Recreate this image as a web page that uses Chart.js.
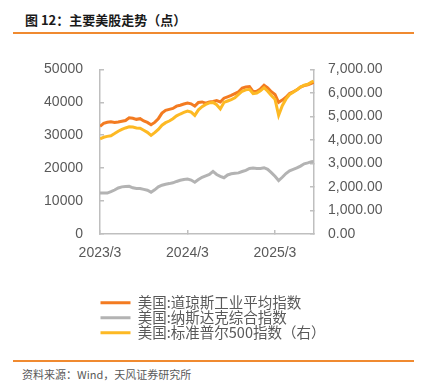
<!DOCTYPE html>
<html>
<head>
<meta charset="utf-8">
<script src="https://cdn.jsdelivr.net/npm/chart.js@4.4.1/dist/chart.umd.min.js"></script>
<style>
  body { margin: 0; width: 422px; height: 381px; background: #fff; position: relative; overflow: hidden; font-family: "Noto Sans CJK SC", sans-serif; }
  #title { position: absolute; left: 25px; top: 11px; font-size: 13px; font-weight: bold; color: #1a1a1a; line-height: 18px; white-space: nowrap; }
  .rule { position: absolute; left: 13px; width: 401px; height: 1.5px; background: #F08A30; }
  #src { position: absolute; left: 22px; top: 366px; font-size: 11px; color: #595959; line-height: 16px; white-space: nowrap; }
  #box { position: absolute; left: 0; top: 40px; width: 422px; height: 310px; }
</style>
</head>
<body>
<div id="title">图 12：主要美股走势（点）</div>
<div class="rule" style="top:32px"></div>
<div id="box"><canvas id="chart"></canvas></div>
<div class="rule" style="top:360px"></div>
<div id="src">资料来源：Wind，天风证券研究所</div>
<script>
// months after 2023/3
const months = [0, 0.5, 1, 1.5, 2, 2.5, 3, 3.5, 4, 4.5, 5, 5.5, 6, 6.5, 7, 7.5, 8, 8.5, 9, 9.5,
  10, 10.5, 11, 11.5, 12, 12.5, 13, 13.5, 14, 14.5, 15, 15.5, 16, 16.5, 17, 17.5, 18, 18.5, 19, 19.5,
  20, 20.5, 21, 21.5, 22, 22.5, 23, 23.5, 24, 24.5, 25, 25.5, 26, 26.5, 27, 27.5, 28, 28.5, 29, 29.3];

const dow = [32700, 33600, 33950, 34100, 33900, 34050, 34270, 34470, 35300, 35170,
  34830, 35030, 34320, 33900, 33200, 33900, 35030, 36720, 37570, 37850,
  38140, 38840, 39130, 39470, 39750, 39550, 38840, 39970, 40120, 39750,
  40120, 40260, 40540, 40120, 41250, 41670, 42090, 42660, 43220, 44350,
  44640, 44780, 43220, 43360, 44070, 45200, 44350, 43220, 42380, 40000,
  40680, 41530, 42660, 43220, 43790, 44640, 45060, 45340, 45770, 46130];

const nasdaq = [12430, 12430, 12430, 12850, 13360, 13980, 14320, 14410, 14490, 14040,
  13840, 13840, 13560, 13280, 12710, 13420, 14320, 14830, 15110, 15310,
  15540, 15960, 16330, 16580, 16670, 16390, 15740, 16530, 17230, 17660,
  18080, 19010, 18080, 17520, 17090, 17940, 18280, 18420, 18560, 18980,
  19350, 19920, 20060, 19920, 19920, 20140, 19630, 18650, 17520, 16240,
  17230, 18360, 19210, 19630, 20060, 20620, 21330, 21610, 21980, 22030];

const spx = [4046, 4113, 4153, 4180, 4271, 4370, 4449, 4509, 4556, 4548,
  4509, 4497, 4410, 4323, 4192, 4311, 4449, 4627, 4734, 4805,
  4904, 5023, 5102, 5169, 5228, 5181, 5043, 5280, 5418, 5509,
  5577, 5596, 5497, 5319, 5596, 5656, 5715, 5794, 5933, 6071,
  6130, 6150, 5972, 5992, 6091, 6221, 6071, 5893, 5735, 5050,
  5458, 5735, 5933, 6031, 6130, 6249, 6328, 6368, 6466, 6506];

const seriesNames = ['美国:道琼斯工业平均指数', '美国:纳斯达克综合指数', '美国:标准普尔500指数（右）'];
const xTickMonths = [0, 12, 24];
const xTickLabels = ['2023/3', '2024/3', '2025/3'];
const leftTickLabels = ['0', '10000', '20000', '30000', '40000', '50000'];
const rightTickLabels = ['0.00', '1,000.00', '2,000.00', '3,000.00', '4,000.00', '5,000.00', '6,000.00', '7,000.00'];

const axisColor = '#BFBFBF';
const textColor = '#595959';
const tickFont = { family: '"Liberation Sans", Arial, sans-serif', size: 14 };

function pts(arr) {
  return arr.map((v, i) => ({ x: months[i], y: v }));
}

// legend keeps one item per row but must not be clipped at the plot's right edge
const legendWide = {
  id: 'legendWide',
  afterLayout(chart) {
    if (chart.legend) chart.legend.right = chart.width;
  }
};

const ctx = document.getElementById('chart').getContext('2d');
new Chart(ctx, {
  type: 'line',
  data: {
    datasets: [
      { label: seriesNames[0], data: pts(dow), borderColor: '#F37B21', backgroundColor: '#F37B21', yAxisID: 'y', order: 1 },
      { label: seriesNames[1], data: pts(nasdaq), borderColor: '#B3B3B3', backgroundColor: '#B3B3B3', yAxisID: 'y', order: 2 },
      { label: seriesNames[2], data: pts(spx), borderColor: '#FDB924', backgroundColor: '#FDB924', yAxisID: 'y1', order: 0 }
    ]
  },
  plugins: [legendWide],
  options: {
    responsive: true,
    maintainAspectRatio: false,
    animation: false,
    layout: { padding: { top: 17, left: 0, right: 0, bottom: 0 } },
    elements: { point: { radius: 0 }, line: { borderWidth: 3, tension: 0 } },
    scales: {
      x: {
        type: 'linear',
        min: 0,
        max: 29.35,
        afterBuildTicks: s => { s.ticks = xTickMonths.map(v => ({ value: v })); },
        afterFit: s => { s.height = 61; },
        grid: { drawOnChartArea: false, tickLength: -4, color: axisColor, lineWidth: 1.5 },
        border: { color: axisColor, width: 1.5 },
        ticks: {
          padding: 15, color: textColor, font: tickFont, maxRotation: 0, autoSkip: false,
          callback: v => { const i = xTickMonths.indexOf(v); return i < 0 ? '' : xTickLabels[i]; }
        }
      },
      y: {
        position: 'left',
        min: 0,
        max: 50000,
        afterFit: s => { s.width = 100; },
        grid: { drawOnChartArea: false, tickLength: -4, color: axisColor, lineWidth: 1.5 },
        border: { color: axisColor, width: 1.5 },
        ticks: { stepSize: 10000, padding: 21, color: textColor, font: tickFont, callback: (v, i) => leftTickLabels[i] }
      },
      y1: {
        position: 'right',
        min: 0,
        max: 7000,
        afterFit: s => { s.width = 108; },
        grid: { drawOnChartArea: false, tickLength: -4, color: axisColor, lineWidth: 1.5 },
        border: { color: axisColor, width: 1.5 },
        ticks: { stepSize: 1000, padding: 18, color: textColor, font: tickFont, callback: (v, i) => rightTickLabels[i] }
      }
    },
    plugins: {
      tooltip: { enabled: false },
      legend: {
        position: 'bottom',
        fullSize: false,
        align: 'start',
        labels: {
          boxWidth: 30,
          boxHeight: 3,
          padding: 0.5,
          color: textColor,
          font: { family: '"Noto Sans CJK SC", sans-serif', size: 14.5 },
          sort: (a, b) => a.datasetIndex - b.datasetIndex,
          generateLabels: chart => Chart.defaults.plugins.legend.labels.generateLabels(chart)
            .map(l => Object.assign(l, { fillStyle: l.strokeStyle, lineWidth: 0 }))
        }
      }
    }
  }
});
</script>
</body>
</html>
